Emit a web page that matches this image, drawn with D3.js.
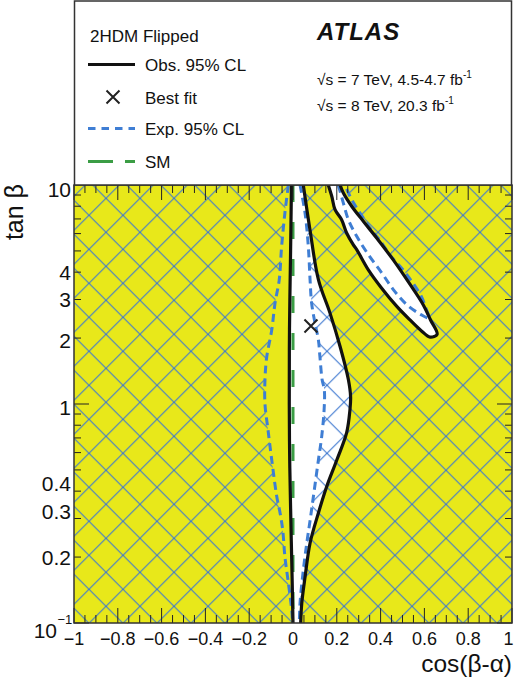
<!DOCTYPE html>
<html>
<head>
<meta charset="utf-8">
<script src="https://cdn.jsdelivr.net/npm/d3@7"></script>
<style>
body { margin: 0; background: #fff; }
text { font-family: "Liberation Sans", Arial, Helvetica, sans-serif; fill: #111; }
</style>
</head>
<body>
<script>
// points are [cos(beta-alpha), tan beta]
var obsLeft = [[-0.007, 10], [-0.011, 5.0], [-0.016, 2.2], [-0.017, 1.0], [-0.015, 0.55],
  [-0.010, 0.3], [-0.004, 0.16], [0.0, 0.1]];
var obsRight = [[0.047, 10], [0.078, 6.2], [0.116, 3.7], [0.169, 2.6], [0.215, 1.83],
  [0.253, 1.29], [0.263, 1.08], [0.260, 0.94], [0.245, 0.74], [0.200, 0.555], [0.154, 0.42],
  [0.116, 0.318], [0.078, 0.232], [0.055, 0.162], [0.040, 0.123], [0.035, 0.1]];
var obsBand = [[0.161, 10], [0.177, 8.88], [0.192, 7.71], [0.222, 6.94], [0.245, 6.04],
  [0.275, 5.34], [0.291, 5.07], [0.344, 4.10], [0.405, 3.38], [0.474, 2.79], [0.534, 2.42],
  [0.588, 2.15], [0.626, 2.02], [0.658, 2.08], [0.628, 2.42], [0.590, 2.89], [0.530, 3.57],
  [0.457, 4.56], [0.382, 5.73], [0.321, 6.83], [0.268, 8.0], [0.230, 9.19], [0.215, 10]];

var expLeft = [[-0.021, 10], [-0.037, 7.45], [-0.052, 5.23], [-0.063, 3.68], [-0.082, 2.89],
  [-0.097, 2.18], [-0.120, 1.64], [-0.128, 1.29], [-0.128, 1.0], [-0.114, 0.76],
  [-0.097, 0.555], [-0.074, 0.377], [-0.059, 0.318], [-0.047, 0.266], [-0.037, 0.201],
  [-0.021, 0.152], [-0.006, 0.115], [-0.002, 0.1]];
var expRight = [[0.032, 10], [0.055, 7.45], [0.070, 5.23], [0.078, 3.68], [0.085, 2.89],
  [0.100, 2.35], [0.116, 1.96], [0.123, 1.64], [0.133, 1.29], [0.143, 1.16], [0.142, 0.94],
  [0.131, 0.71], [0.116, 0.555], [0.093, 0.377], [0.078, 0.294], [0.063, 0.232],
  [0.047, 0.174], [0.032, 0.123], [0.029, 0.1]];
var expBand = [[0.207, 10], [0.230, 8.27], [0.253, 6.94], [0.291, 5.83], [0.344, 4.81],
  [0.405, 3.97], [0.458, 3.33], [0.520, 2.84], [0.584, 2.56], [0.621, 2.47], [0.609, 2.70],
  [0.586, 3.10], [0.547, 3.57], [0.502, 4.10], [0.448, 4.72], [0.395, 5.62], [0.357, 6.25],
  [0.306, 7.45], [0.268, 8.57], [0.237, 10]];

var bestFit = [0.082, 2.27];

var xTicks = [-1, -0.8, -0.6, -0.4, -0.2, 0, 0.2, 0.4, 0.6, 0.8, 1];
var xTickLabels = ["\u22121", "\u22120.8", "\u22120.6", "\u22120.4", "\u22120.2", "0", "0.2", "0.4", "0.6", "0.8", "1"];
var yTicks = [0.1, 0.2, 0.3, 0.4, 1, 2, 3, 4, 10];
var yTickLabels = ["10", "0.2", "0.3", "0.4", "1", "2", "3", "4", "10"];

var legendItems = ["Obs. 95% CL", "Best fit", "Exp. 95% CL", "SM"];

var W = 514, H = 683;
var plotLeft = 74, plotTop = 185, pw = 438, ph = 438;
var yellow = "#e8e81a", blue = "#3f7ed4", hatchBlue = "#3d78d0", green = "#3b9d45";

var svg = d3.select("body").append("svg")
  .attr("width", W)
  .attr("height", H);

var x = d3.scaleLinear().domain([-1, 1]).range([0, pw]);
var y = d3.scaleLog().domain([0.1, 10]).range([ph, 0]);

var defs = svg.append("defs");
defs.append("clipPath").attr("id", "plotclip")
  .append("rect").attr("width", pw).attr("height", ph);

var pat = defs.append("pattern")
  .attr("id", "hatch")
  .attr("patternUnits", "userSpaceOnUse")
  .attr("x", 15).attr("y", 30.3)
  .attr("width", 34).attr("height", 34);
pat.append("path")
  .attr("d", "M-2,-2L36,36M36,-2L-2,36")
  .attr("stroke", hatchBlue)
  .attr("stroke-width", 1.1);

var g = svg.append("g").attr("transform", `translate(${plotLeft},${plotTop})`);
var plot = g.append("g").attr("clip-path", "url(#plotclip)");

var line = d3.line()
  .x(d => x(d[0]))
  .y(d => y(d[1]))
  .curve(d3.curveCatmullRom.alpha(0.5));

function region(a, b) {
  return line(a) + line(b.slice().reverse()).replace(/^M/, "L") + "Z";
}

plot.append("rect").attr("width", pw).attr("height", ph).attr("fill", yellow);

// allowed by observation
plot.append("path").attr("d", region(obsLeft, obsRight)).attr("fill", "#fff");
plot.append("path").attr("d", line(obsBand) + "Z").attr("fill", "#fff");

// hatch outside the expected regions (the band hole also keeps the white island clear)
var bandHole = obsBand.slice(0, 14).concat(expBand.slice(10));
plot.append("path")
  .attr("d", `M0,0H${pw}V${ph}H0Z` + region(expLeft, expRight) + line(bandHole) + "Z")
  .attr("fill", "url(#hatch)")
  .attr("fill-rule", "evenodd");

// SM
plot.append("line")
  .attr("x1", x(0)).attr("x2", x(0))
  .attr("y1", 0).attr("y2", ph)
  .attr("stroke", green)
  .attr("stroke-width", 3)
  .attr("stroke-dasharray", "17,20");

[expLeft, expRight, expBand].forEach(function(c) {
  plot.append("path")
    .attr("d", line(c))
    .attr("fill", "none")
    .attr("stroke", blue)
    .attr("stroke-width", 3)
    .attr("stroke-dasharray", "8,5");
});

[obsLeft, obsRight, obsBand].forEach(function(c) {
  plot.append("path")
    .attr("d", line(c))
    .attr("fill", "none")
    .attr("stroke", "#111")
    .attr("stroke-width", 3.2);
});

function cross(sel, cx, cy, s) {
  sel.append("path")
    .attr("d", `M${cx - s},${cy - s}L${cx + s},${cy + s}M${cx + s},${cy - s}L${cx - s},${cy + s}`)
    .attr("stroke", "#222")
    .attr("stroke-width", 2)
    .attr("fill", "none");
}
cross(plot, x(bestFit[0]), y(bestFit[1]), 6.5);

// ticks on all sides
var tk = g.append("g").attr("stroke", "#222").attr("stroke-width", 1);
var xMinor = d3.range(-1, 1.0001, 0.05).filter(v => Math.abs(Math.round(v * 5) - v * 5) > 0.01);
xTicks.forEach(function(v) {
  tk.append("line").attr("x1", x(v)).attr("x2", x(v)).attr("y1", ph).attr("y2", ph - 15);
  tk.append("line").attr("x1", x(v)).attr("x2", x(v)).attr("y1", 0).attr("y2", 15);
});
xMinor.forEach(function(v) {
  tk.append("line").attr("x1", x(v)).attr("x2", x(v)).attr("y1", ph).attr("y2", ph - 8);
  tk.append("line").attr("x1", x(v)).attr("x2", x(v)).attr("y1", 0).attr("y2", 8);
});
[0.1, 1].forEach(function(dec) {
  d3.range(1, 10).forEach(function(k) {
    var v = dec * k, len = k === 1 ? 15 : 7;
    tk.append("line").attr("x1", 0).attr("x2", len).attr("y1", y(v)).attr("y2", y(v));
    tk.append("line").attr("x1", pw).attr("x2", pw - len).attr("y1", y(v)).attr("y2", y(v));
  });
});

g.append("rect")
  .attr("width", pw).attr("height", ph)
  .attr("fill", "none")
  .attr("stroke", "#333")
  .attr("stroke-width", 1.5);

// x labels
g.selectAll(".xl").data(xTicks).enter().append("text")
  .attr("x", (d, i) => i === xTicks.length - 1 ? pw + 1.5 : x(d))
  .attr("y", ph + 22)
  .attr("text-anchor", (d, i) => i === xTicks.length - 1 ? "end" : "middle")
  .style("font-size", "18px")
  .text((d, i) => xTickLabels[i]);

// y labels
var yNudge = {"10": 4, "1": 3, "2": 2, "0.4": -8, "0.3": -7, "0.1": 8};
yTicks.forEach(function(v, i) {
  if (v === 0.1) {
    g.append("text")
      .attr("x", -17).attr("y", y(v) + 15)
      .attr("text-anchor", "end")
      .style("font-size", "21px")
      .text("10");
    g.append("text")
      .attr("x", -16.5).attr("y", y(v) + 0.5)
      .attr("text-anchor", "start")
      .style("font-size", "13px")
      .text("\u22121");
  } else {
    g.append("text")
      .attr("x", -3)
      .attr("y", y(v) + 7.5 + (yNudge[String(v)] || 0))
      .attr("text-anchor", "end")
      .style("font-size", "21px")
      .text(yTickLabels[i]);
  }
});

svg.append("text")
  .attr("x", 512).attr("y", 672)
  .attr("text-anchor", "end")
  .style("font-size", "24.5px")
  .text("cos(\u03B2-\u03B1)");

svg.append("text")
  .attr("transform", "translate(23,184) rotate(-90)")
  .attr("text-anchor", "end")
  .style("font-size", "25px")
  .text("tan \u03B2");

// legend box
var lg = svg.append("g");
lg.append("rect")
  .attr("x", 74.5).attr("y", 1)
  .attr("width", 437).attr("height", 184)
  .attr("fill", "#fff")
  .attr("stroke", "#333")
  .attr("stroke-width", 1.5);

lg.append("text").attr("x", 90).attr("y", 41.5).style("font-size", "17px").text("2HDM Flipped");

var rowY = [64.5, 97, 128.5, 161.5];
legendItems.forEach(function(name, i) {
  lg.append("text")
    .attr("x", 145).attr("y", rowY[i] + 6.5)
    .style("font-size", "17px")
    .text(name);
});
lg.append("line").attr("x1", 88).attr("x2", 135).attr("y1", rowY[0]).attr("y2", rowY[0])
  .attr("stroke", "#111").attr("stroke-width", 3);
cross(lg, 113, rowY[1], 6.5);
lg.append("line").attr("x1", 88).attr("x2", 135).attr("y1", rowY[2]).attr("y2", rowY[2])
  .attr("stroke", blue).attr("stroke-width", 3).attr("stroke-dasharray", "7.5,6");
lg.append("line").attr("x1", 88).attr("x2", 135).attr("y1", rowY[3]).attr("y2", rowY[3])
  .attr("stroke", green).attr("stroke-width", 3).attr("stroke-dasharray", "25,12");

lg.append("text")
  .attr("x", 317).attr("y", 40)
  .style("font-size", "24px")
  .style("font-weight", "bold")
  .style("font-style", "italic")
  .style("letter-spacing", "1px")
  .text("ATLAS");

var energies = [["\u221As = 7 TeV, 4.5-4.7 fb", 85], ["\u221As = 8 TeV, 20.3 fb", 111]];
energies.forEach(function(e) {
  var t = lg.append("text").attr("x", 317).attr("y", e[1]).style("font-size", "15.5px");
  t.append("tspan").text(e[0]);
  t.append("tspan").attr("dy", -7).style("font-size", "10px").text("-1");
});
</script>
</body>
</html>
